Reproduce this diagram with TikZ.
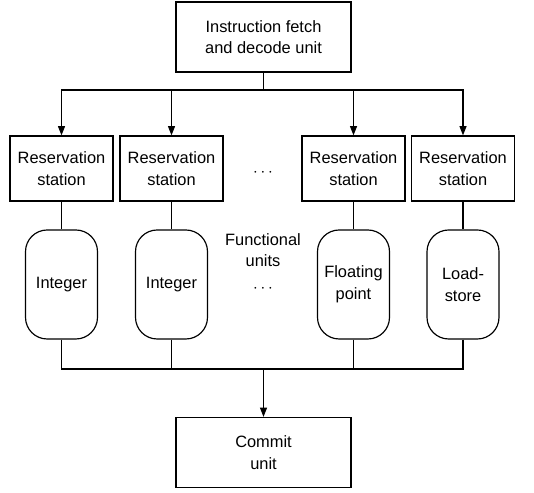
\documentclass[tikz,border=0pt]{standalone}
\usepackage{fontspec}
\setmainfont{Liberation Sans}
\usetikzlibrary{arrows.meta, positioning}

\begin{document}
\begin{tikzpicture}[
        every node/.style={font=\fontsize{14}{18.5}\selectfont, align=center},
        unitbox/.style={draw, line width=1pt, minimum width=5.25cm, minimum height=2.1cm},
        station/.style={draw, line width=1pt, minimum width=3.09cm, minimum height=1.95cm},
        funit/.style={draw, line width=1pt, rounded corners=0.65cm, minimum width=2.16cm, minimum height=3.27cm},
        wire/.style={line width=1pt},
        arr/.style={line width=1pt, -{Triangle[length=8pt, width=6pt]}}
        ]
        \useasboundingbox (0,0) rectangle (16.02,14.79);

        % fetch and commit
        \node[unitbox] (fetch) at (7.905, 13.68) {Instruction fetch\\and decode unit};
        \node[unitbox] (commit) at (7.905, 1.215) {Commit\\unit};

        % reservation stations
        \node[station] (rs1) at (1.845, 9.735) {Reservation\\station};
        \node[station] (rs2) at (5.145, 9.735) {Reservation\\station};
        \node[station] (rs3) at (10.605, 9.735) {Reservation\\station};
        \node[station] (rs4) at (13.89, 9.735) {Reservation\\station};
        \node (dotsa) at (7.89, 9.62) {$\cdots$};

        % functional units
        \node[funit] (fu1) at (1.845, 6.255) {Integer};
        \node[funit] (fu2) at (5.145, 6.255) {Integer};
        \node[funit] (fu3) at (10.605, 6.255) {Floating\\point};
        \node[funit] (fu4) at (13.89, 6.255) {Load-\\store};
        \node (fulabel) at (7.89, 7.29) {Functional\\units};
        \node (dotsb) at (7.89, 6.14) {$\cdots$};

        % dispatch
        \coordinate (split) at (7.905, 12.09);
        \draw[wire] (fetch.south) -- (split);
        \foreach \s in {rs1, rs2, rs3, rs4} {
            \draw[arr] (split) -| (\s.north);
            \draw[wire] (\s.south) -- (\s.south |- fu1.north);
        }

        % results to commit
        \coordinate (join) at (7.905, 3.72);
        \foreach \f in {fu1, fu2, fu3, fu4} {
            \draw[wire] (\f.south) |- (join);
        }
        \draw[arr] (join) -- (commit.north);
    \end{tikzpicture}
\end{document}
